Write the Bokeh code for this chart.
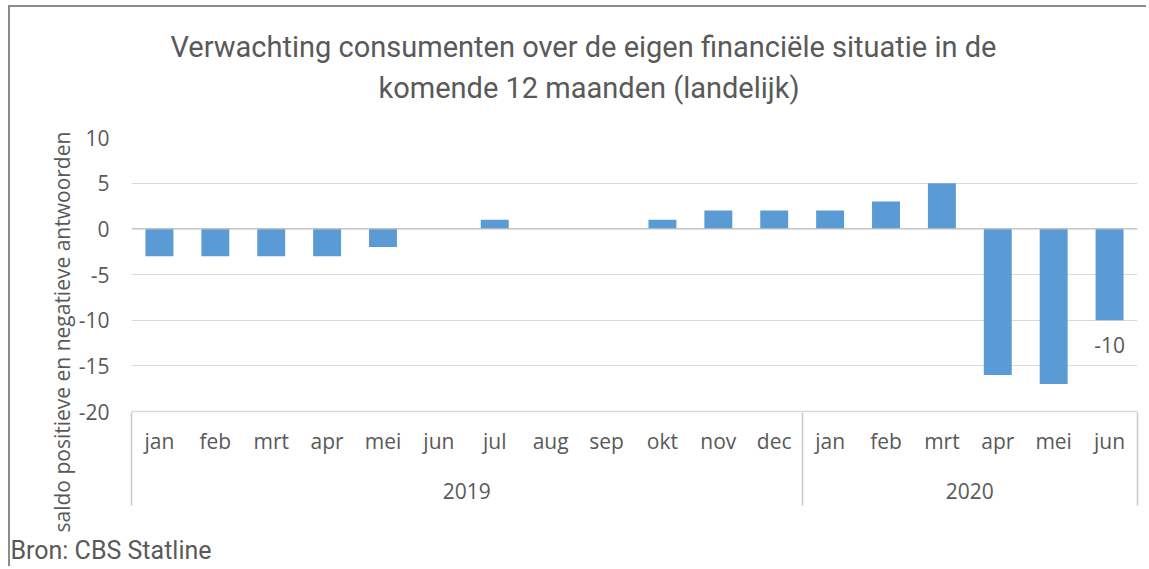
import numpy as np
from bokeh.plotting import figure
from bokeh.models import (Range1d, FixedTicker, LinearAxis, Span, Title, ColumnDataSource)
from bokeh.core.properties import value
from bokeh.embed import file_html
from bokeh.resources import INLINE

# ---- data ----
years = ["2019", "2020"]
months_2019 = ["jan", "feb", "mrt", "apr", "mei", "jun", "jul", "aug", "sep", "okt", "nov", "dec"]
months_2020 = ["jan", "feb", "mrt", "apr", "mei", "jun"]
values_2019 = [-3, -3, -3, -3, -2, 0, 1, 0, 0, 1, 2, 2]
values_2020 = [2, 3, 5, -16, -17, -10]
y_ticks = [-20, -15, -10, -5, 0, 5, 10]
title_lines = ["Verwachting consumenten over de eigen financiële situatie in de",
               "komende 12 maanden (landelijk)"]
y_title = "saldo positieve en negatieve antwoorden"
source_text = "Bron: CBS Statline"

TXT = "#595959"
GRID = "#d9d9d9"
BAR = "#5B9BD5"
FONT = "Open Sans"
TFONT = "Roboto"
TICK_SIZE = "21px"

months = months_2019 + months_2020
vals = values_2019 + values_2020
n = len(vals)
centers = [float(c) for c in np.arange(n) + 0.5]
group_sizes = [len(months_2019), len(months_2020)]
bounds = [0.0] + [float(b) for b in np.cumsum(group_sizes)]
group_centers = [(bounds[i] + bounds[i + 1]) / 2 for i in range(len(years))]

p = figure(width=1138, height=561, output_backend="svg", toolbar_location=None,
           x_range=Range1d(0, n), y_range=Range1d(min(y_ticks), max(y_ticks)),
           min_border_left=121, min_border_right=11, min_border_top=130, min_border_bottom=157)
p.outline_line_color = None
p.background_fill_color = "white"
p.border_fill_color = "white"
p.xgrid.visible = False
p.ygrid.grid_line_color = GRID
p.ygrid.ticker = FixedTicker(ticks=y_ticks)
p.styles = {"margin-left": "8px", "margin-top": "5px",
            "border-left": "2px solid #8c8c8c", "border-top": "2px solid #8c8c8c"}

src = ColumnDataSource(dict(x=centers, top=vals))
p.vbar(x="x", top="top", bottom=0, width=0.5, source=src, fill_color=BAR, line_color=None)

p.add_layout(Span(location=0, dimension="width", line_color="#bfbfbf", line_width=1.3))

# data label on the last bar
lab = ColumnDataSource(dict(x=[centers[-1]], y=[vals[-1]], t=[f"{vals[-1]:g}"]))
p.text(x="x", y="y", text="t", source=lab, text_align="center", text_baseline="middle",
       y_offset=25, text_font=value(FONT), text_font_size=TICK_SIZE, text_color=TXT)

# y axis
ya = p.yaxis[0]
ya.ticker = FixedTicker(ticks=y_ticks)
ya.major_label_overrides = {t: str(t) for t in y_ticks}
ya.axis_line_color = None
ya.major_tick_line_color = None
ya.minor_tick_line_color = None
ya.major_tick_out = 0
ya.major_tick_in = 0
ya.major_label_standoff = 22
ya.major_label_text_font = FONT
ya.major_label_text_font_size = TICK_SIZE
ya.major_label_text_color = TXT

# month axis
xa = p.xaxis[0]
xa.ticker = FixedTicker(ticks=centers, minor_ticks=[])
xa.major_label_overrides = {c: m for c, m in zip(centers, months)}
xa.major_tick_line_color = None
xa.minor_tick_line_color = None
xa.major_tick_in = 0
xa.major_tick_out = 0
xa.axis_line_color = GRID
xa.axis_line_width = 1.5
xa.major_label_standoff = 15
xa.major_label_text_font = FONT
xa.major_label_text_font_size = TICK_SIZE
xa.major_label_text_color = TXT

# year axis
yr = LinearAxis(ticker=FixedTicker(ticks=group_centers, minor_ticks=[]))
yr.major_label_overrides = {c: y for c, y in zip(group_centers, years)}
yr.axis_line_color = None
yr.major_tick_line_color = None
yr.minor_tick_line_color = None
yr.major_tick_out = 0
yr.major_tick_in = 0
yr.major_label_standoff = 25
yr.major_label_text_font = FONT
yr.major_label_text_font_size = TICK_SIZE
yr.major_label_text_color = TXT
p.add_layout(yr, "below")

# separator axis (group boundaries)
sep = LinearAxis(ticker=FixedTicker(ticks=bounds, minor_ticks=[]))
sep.major_label_overrides = {b: "" for b in bounds}
sep.axis_line_color = None
sep.minor_tick_line_color = None
sep.major_tick_line_color = "#c8c8c8"
sep.major_tick_line_width = 1.5
sep.major_tick_in = 89
sep.major_tick_out = 4
sep.major_label_standoff = 0
sep.major_label_text_font_size = "1px"
p.add_layout(sep, "below")


def spacer(size):
    ax = LinearAxis(ticker=FixedTicker(ticks=[bounds[0]], minor_ticks=[]))
    ax.major_label_overrides = {bounds[0]: ""}
    ax.axis_line_color = None
    ax.major_tick_line_color = None
    ax.minor_tick_line_color = None
    ax.major_tick_out = size
    ax.major_tick_in = 0
    ax.major_label_standoff = 0
    ax.major_label_text_font_size = "1px"
    return ax


p.add_layout(spacer(26), "below")

# source note
p.add_layout(Title(text=source_text, align="left", offset=-121, text_font=TFONT,
                   text_font_size="25px", text_color=TXT, text_font_style="normal",
                   standoff=4), "below")

# y title
p.add_layout(Title(text=y_title, align="left", offset=-121, text_font=FONT,
                   text_font_size="21px", text_color=TXT, text_font_style="normal",
                   standoff=0), "left")

# spacer between plot and title
p.add_layout(spacer(30), "above")

# chart title (nearest line added first)
p.add_layout(Title(text=title_lines[1], align="left", offset=247, text_font=TFONT,
                   text_font_size="29px", text_color=TXT, text_font_style="normal",
                   standoff=6), "above")
p.add_layout(Title(text=title_lines[0], align="left", offset=39, text_font=TFONT,
                   text_font_size="29px", text_color=TXT, text_font_style="normal",
                   standoff=4), "above")

open("out.html", "w").write(file_html(p, INLINE))
